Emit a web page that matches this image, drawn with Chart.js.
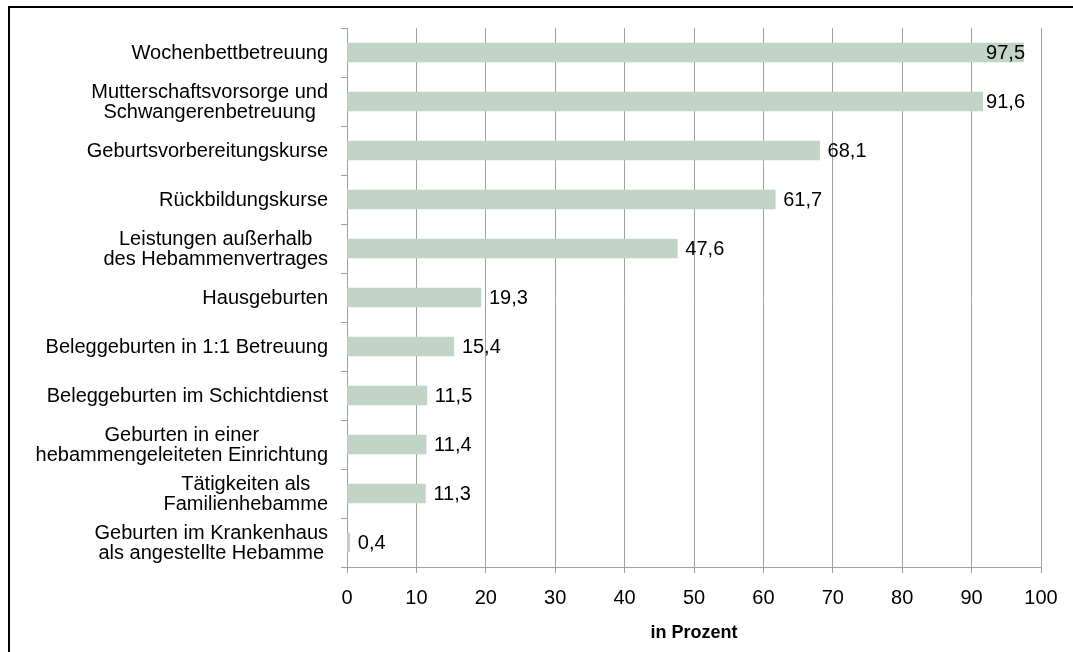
<!DOCTYPE html>
<html>
<head>
<meta charset="utf-8">
<script src="https://cdn.jsdelivr.net/npm/chart.js@4.4.1/dist/chart.umd.min.js"></script>
<style>
html,body{margin:0;padding:0;background:#fff;overflow:hidden;}
#wrap{position:relative;width:1073px;height:652px;overflow:hidden;background:#fff;}
#frame{position:absolute;left:8px;top:6px;width:2000px;height:2000px;border-left:2px solid #000;border-top:2px solid #000;pointer-events:none;}
canvas{position:absolute;left:0;top:0;}
</style>
</head>
<body>
<div id="wrap"><canvas id="c" width="1073" height="652"></canvas><div id="frame"></div></div>
<script>
const categories = [
  ['Wochenbettbetreuung'],
  ['Mutterschaftsvorsorge und', 'Schwangerenbetreuung'],
  ['Geburtsvorbereitungskurse'],
  ['Rückbildungskurse'],
  ['Leistungen außerhalb', 'des Hebammenvertrages'],
  ['Hausgeburten'],
  ['Beleggeburten in 1:1 Betreuung'],
  ['Beleggeburten im Schichtdienst'],
  ['Geburten in einer', 'hebammengeleiteten Einrichtung'],
  ['Tätigkeiten als', 'Familienhebamme'],
  ['Geburten im Krankenhaus', 'als angestellte Hebamme']
];
const values = [97.5, 91.6, 68.1, 61.7, 47.6, 19.3, 15.4, 11.5, 11.4, 11.3, 0.4];
const valueLabels = ['97,5', '91,6', '68,1', '61,7', '47,6', '19,3', '15,4', '11,5', '11,4', '11,3', '0,4'];
const xTicks = [0, 10, 20, 30, 40, 50, 60, 70, 80, 90, 100];
const axisTitle = 'in Prozent';

const FONT = '"Liberation Sans", Arial, Helvetica, sans-serif';
const GRID = '#A0A0A0';

const categoryLabelPlugin = {
  id: 'categoryLabels',
  afterDraw(chart) {
    const ys = chart.scales.y;
    const ctx = chart.ctx;
    ctx.save();
    ctx.font = '20px ' + FONT;
    ctx.fillStyle = '#000';
    ctx.textAlign = 'center';
    ctx.textBaseline = 'middle';
    const right = ys.right - 19;
    const lh = 19.5;
    categories.forEach((lines, i) => {
      const y = ys.getPixelForValue(i);
      const maxW = Math.max(...lines.map(l => ctx.measureText(l).width));
      const cx = right - maxW / 2;
      lines.forEach((l, k) => {
        ctx.fillText(l, cx, y + (k - (lines.length - 1) / 2) * lh + 1);
      });
    });
    ctx.restore();
  }
};

const valueLabelPlugin = {
  id: 'valueLabels',
  afterDatasetsDraw(chart) {
    const meta = chart.getDatasetMeta(0);
    const ctx = chart.ctx;
    ctx.save();
    ctx.font = '20px ' + FONT;
    ctx.fillStyle = '#000';
    ctx.textAlign = 'left';
    ctx.textBaseline = 'middle';
    const maxRight = chart.chartArea.right - 16;
    meta.data.forEach((bar, i) => {
      const txt = valueLabels[i];
      const w = ctx.measureText(txt).width;
      let x = bar.x + 8;
      if (x + w > maxRight) x = maxRight - w;
      ctx.fillText(txt, x, bar.y + 1);
    });
    ctx.restore();
  }
};

new Chart(document.getElementById('c'), {
  type: 'bar',
  data: {
    labels: categories.map(c => c.join(' ')),
    datasets: [{
      data: values,
      backgroundColor: '#C2D4C6',
      borderWidth: 0,
      barThickness: 19
    }]
  },
  options: {
    indexAxis: 'y',
    responsive: false,
    animation: false,
    devicePixelRatio: 1,
    layout: { padding: { left: 0, right: 32, top: 28, bottom: 0 } },
    plugins: { legend: { display: false }, tooltip: { enabled: false } },
    scales: {
      y: {
        type: 'category',
        grid: { display: true, drawOnChartArea: false, drawTicks: true, tickLength: 6, color: GRID, offset: true },
        border: { display: true, color: GRID, width: 1 },
        ticks: { display: false },
        afterFit(s) { s.width = 347; }
      },
      x: {
        min: 0, max: 100,
        afterBuildTicks(s) { s.ticks = xTicks.map(v => ({ value: v })); },
        ticks: { color: '#000', font: { family: FONT, size: 20 }, padding: 13, maxRotation: 0, autoSkip: false },
        grid: { color: GRID, tickLength: 6, drawTicks: true },
        border: { color: GRID, width: 1 },
        title: { display: true, text: axisTitle, color: '#000', font: { family: FONT, size: 18, weight: 'bold' }, padding: { top: 6, bottom: 8 } },
        afterFit(s) { s.height = 85; }
      }
    }
  },
  plugins: [categoryLabelPlugin, valueLabelPlugin]
});
</script>
</body>
</html>
